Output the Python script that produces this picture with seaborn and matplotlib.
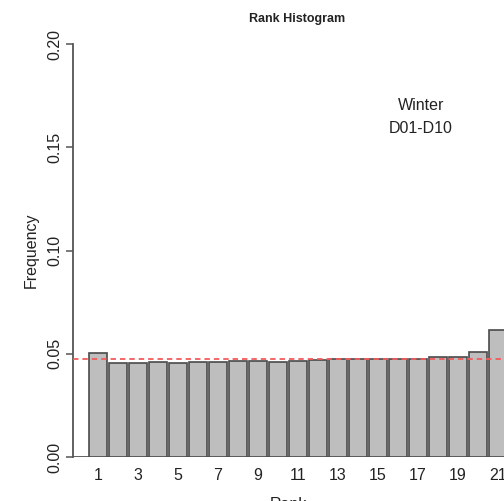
import matplotlib
matplotlib.use("Agg")
import matplotlib.pyplot as plt
import seaborn as sns
import pandas as pd

# Relative frequency of each verification rank (21 ranks)
ranks = list(range(1, 22))
freq = [0.0505, 0.0454, 0.0454, 0.0459, 0.0454, 0.0460, 0.0460, 0.0463,
        0.0463, 0.0459, 0.0463, 0.0468, 0.0473, 0.0473, 0.0473, 0.0476,
        0.0473, 0.0484, 0.0484, 0.0510, 0.0613]
expected = 1 / 21
yticks = [0.00, 0.05, 0.10, 0.15, 0.20]
ytick_labels = ["0.00", "0.05", "0.10", "0.15", "0.20"]

sns.set_style("white")
plt.rcParams["font.family"] = ["Liberation Sans", "DejaVu Sans"]

df = pd.DataFrame({"Rank": [str(r) for r in ranks], "Frequency": freq})

fig = plt.figure(figsize=(5.04, 5.01), dpi=100)
ax = fig.add_axes([73 / 504, (501 - 457) / 501, (504 - 73) / 504, 413 / 501])

sns.barplot(data=df, x="Rank", y="Frequency", order=df["Rank"], color="#BEBEBE",
            saturation=1, width=0.9, edgecolor="#4a4a4a", linewidth=1.2, ax=ax)

ax.axhline(0, color="#555555", lw=1.3, zorder=0.5)
ax.axhline(expected, color="#F25C5C", lw=1.3, dashes=(3.0, 2.2), zorder=3)

ax.set_ylim(0, 0.2)
ax.set_xlim(-1.25, (504 - 98) / 20)

for side in ["top", "right", "bottom"]:
    ax.spines[side].set_visible(False)
ax.spines["left"].set_color("#555555")
ax.spines["left"].set_linewidth(1.3)

ax.set_yticks(yticks)
ax.set_yticklabels(ytick_labels, rotation=90, va="center", fontsize=11.5, color="#222222")
ax.tick_params(axis="y", direction="out", length=5, width=1.1, color="#555555", pad=3, left=True)

pos = list(range(0, 21, 2))
ax.set_xticks(pos)
ax.set_xticklabels([str(ranks[p]) for p in pos], fontsize=11.5, color="#222222")
ax.tick_params(axis="x", length=0, pad=8)

ax.set_xlabel("Rank", fontsize=11.5, labelpad=10, color="#222222")
ax.set_ylabel("Frequency", fontsize=11.5, labelpad=6, color="#222222")

ax.text(16.15, 0.170, "Winter", ha="center", va="center", fontsize=11.5, color="#222222")
ax.text(16.15, 0.159, "D01-D10", ha="center", va="center", fontsize=11.5, color="#222222")

fig.text(297 / 504, 1 - 19 / 501, "Rank Histogram", ha="center", va="center",
         fontsize=9, fontweight="bold", color="#222222")

fig.savefig("out.png", dpi=100)
